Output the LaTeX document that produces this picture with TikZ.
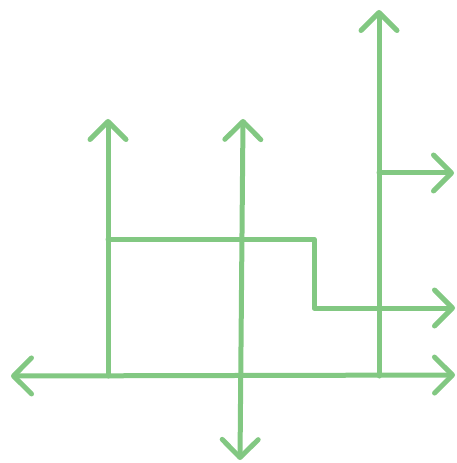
\documentclass[tikz,border=0pt]{standalone}
\usetikzlibrary{arrows.meta}
\definecolor{lg}{RGB}{130,200,130}
\begin{document}
\begin{tikzpicture}[x=1bp,y=-1bp,
  ln/.style={draw=lg,line width=5bp,line cap=round,line join=round},
  bh/.tip={Straight Barb[round,length=18bp,width=36bp]},
  tip/.style={-bh}]
\useasboundingbox (0,0) rectangle (457,463);
\coordinate (axL) at (11,376);
\coordinate (axR) at (455,375);
\coordinate (v1b) at (108,376);
\coordinate (v1t) at (108,119);
\coordinate (v2b) at (240,460);
\coordinate (v2t) at (243,119);
\coordinate (v3b) at (379,376);
\coordinate (v3t) at (379,10);
\coordinate (h1r) at (454,173);
\coordinate (s1) at (108,239);
\coordinate (s2) at (314,239);
\coordinate (s3) at (314,308);
\coordinate (s4) at (455,308);
\draw[ln,bh-bh] (axL) -- (axR);
\draw[ln,tip] (v1b) -- (v1t);
\draw[ln,bh-bh] (v2b) -- (v2t);
\draw[ln,tip] (v3b) -- (v3t);
\draw[ln,tip] (v3t |- h1r) -- (h1r);
\draw[ln,tip] (s1) -- (s2) -- (s3) -- (s4);
\end{tikzpicture}
\end{document}
